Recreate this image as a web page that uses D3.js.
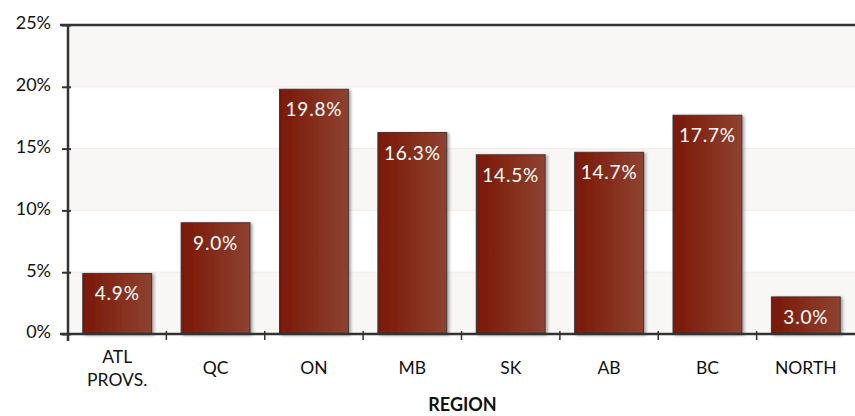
<!DOCTYPE html>
<html>
<head>
<meta charset="utf-8">
<script src="https://cdn.jsdelivr.net/npm/d3@7"></script>
<style>
  body { margin: 0; background: #fff; }
  svg text { font-family: Lato, "Open Sans", sans-serif; }
</style>
</head>
<body>
<svg id="chart" width="855" height="416"></svg>
<script>
const regions = ['ATL\nPROVS.', 'QC', 'ON', 'MB', 'SK', 'AB', 'BC', 'NORTH'];
const shares = [4.9, 9.0, 19.8, 16.3, 14.5, 14.7, 17.7, 3.0];
const yTicks = [0, 5, 10, 15, 20, 25];
const xTitle = 'REGION';

const margin = {top: 25, right: 0, bottom: 82, left: 68};
const width = 855 - margin.left - margin.right;
const height = 416 - margin.top - margin.bottom;

const svg = d3.select('#chart');
const defs = svg.append('defs');

const grad = defs.append('linearGradient').attr('id', 'barGrad')
  .attr('x1', '0%').attr('x2', '100%').attr('y1', '0%').attr('y2', '0%');
grad.append('stop').attr('offset', '0%').attr('stop-color', '#7a1806');
grad.append('stop').attr('offset', '100%').attr('stop-color', '#8f4231');

const shadow = defs.append('filter').attr('id', 'shadow')
  .attr('x', '-10%').attr('y', '-10%').attr('width', '130%').attr('height', '130%');
shadow.append('feDropShadow').attr('dx', 2).attr('dy', 1).attr('stdDeviation', 1.5)
  .attr('flood-color', '#000').attr('flood-opacity', 0.35);

const g = svg.append('g').attr('transform', `translate(${margin.left},${margin.top})`);

const x = d3.scaleBand().domain(regions).range([0, width]).paddingInner(0.3).paddingOuter(0.15);
const y = d3.scaleLinear().domain([0, 25]).range([height, 0]);

// alternating bands
for (let i = 0; i < yTicks.length - 1; i++) {
  if (i % 2 === 0) {
    g.append('rect')
      .attr('x', 0).attr('width', width)
      .attr('y', y(yTicks[i + 1])).attr('height', y(yTicks[i]) - y(yTicks[i + 1]))
      .attr('fill', '#f9f7f5');
  }
  g.append('line')
    .attr('x1', 0).attr('x2', width)
    .attr('y1', y(yTicks[i])).attr('y2', y(yTicks[i]))
    .attr('stroke', '#f3ebe6').attr('stroke-width', 1);
}

// bars
g.selectAll('rect.bar')
  .data(shares)
  .join('rect')
  .attr('class', 'bar')
  .attr('x', (d, i) => x(regions[i]))
  .attr('width', x.bandwidth())
  .attr('y', d => y(d))
  .attr('height', d => height - y(d))
  .attr('fill', 'url(#barGrad)')
  .attr('stroke', '#3a3a3a')
  .attr('stroke-width', 1)
  .attr('filter', 'url(#shadow)');

g.selectAll('text.val')
  .data(shares)
  .join('text')
  .attr('class', 'val')
  .attr('x', (d, i) => x(regions[i]) + x.bandwidth() / 2)
  .attr('y', d => y(d) + 27)
  .attr('text-anchor', 'middle')
  .attr('fill', '#fff')
  .attr('font-size', 19)
  .attr('letter-spacing', 0.8)
  .text(d => d.toFixed(1) + '%');

// axes
const yAxis = d3.axisLeft(y).tickValues(yTicks).tickSize(6).tickFormat(d => d + '%');
const ya = g.append('g').call(yAxis);
ya.select('.domain').remove();
ya.selectAll('.tick line').attr('stroke', '#333').attr('stroke-width', 2).attr('x2', -6).attr('x1', 3);
ya.selectAll('.tick text').attr('x', -17).attr('dy', '0.22em')
  .attr('font-size', 18).attr('fill', '#111');

g.append('line')
  .attr('x1', 0).attr('x2', 0).attr('y1', 0).attr('y2', height + 7)
  .attr('stroke', '#333').attr('stroke-width', 2.5);
g.append('line')
  .attr('x1', -8).attr('x2', width).attr('y1', 0).attr('y2', 0)
  .attr('stroke', '#333').attr('stroke-width', 2.5);
g.append('line')
  .attr('x1', -8).attr('x2', width).attr('y1', height).attr('y2', height)
  .attr('stroke', '#333').attr('stroke-width', 2.5);

// category boundary ticks
const step = x.step();
g.selectAll('line.xtick')
  .data(regions.slice(1))
  .join('line')
  .attr('class', 'xtick')
  .attr('x1', d => x(d) - (step - x.bandwidth()) / 2)
  .attr('x2', d => x(d) - (step - x.bandwidth()) / 2)
  .attr('y1', height - 3).attr('y2', height + 6)
  .attr('stroke', '#333').attr('stroke-width', 1.5);

// category labels
const xl = g.selectAll('text.cat')
  .data(regions)
  .join('text')
  .attr('class', 'cat')
  .attr('text-anchor', 'middle')
  .attr('font-size', 17.5)
  .attr('fill', '#111');
xl.each(function(d) {
  const lines = d.split('\n');
  const cx = x(d) + x.bandwidth() / 2;
  const y0 = lines.length > 1 ? height + 29 : height + 40;
  d3.select(this).selectAll('tspan')
    .data(lines)
    .join('tspan')
    .attr('x', cx)
    .attr('y', (t, i) => y0 + i * 23)
    .text(t => t);
});

svg.append('text')
  .attr('x', margin.left + width / 2 + 1)
  .attr('y', 411)
  .attr('text-anchor', 'middle')
  .attr('font-size', 18)
  .attr('font-weight', 'bold')
  .attr('fill', '#111')
  .text(xTitle);
</script>
</body>
</html>
